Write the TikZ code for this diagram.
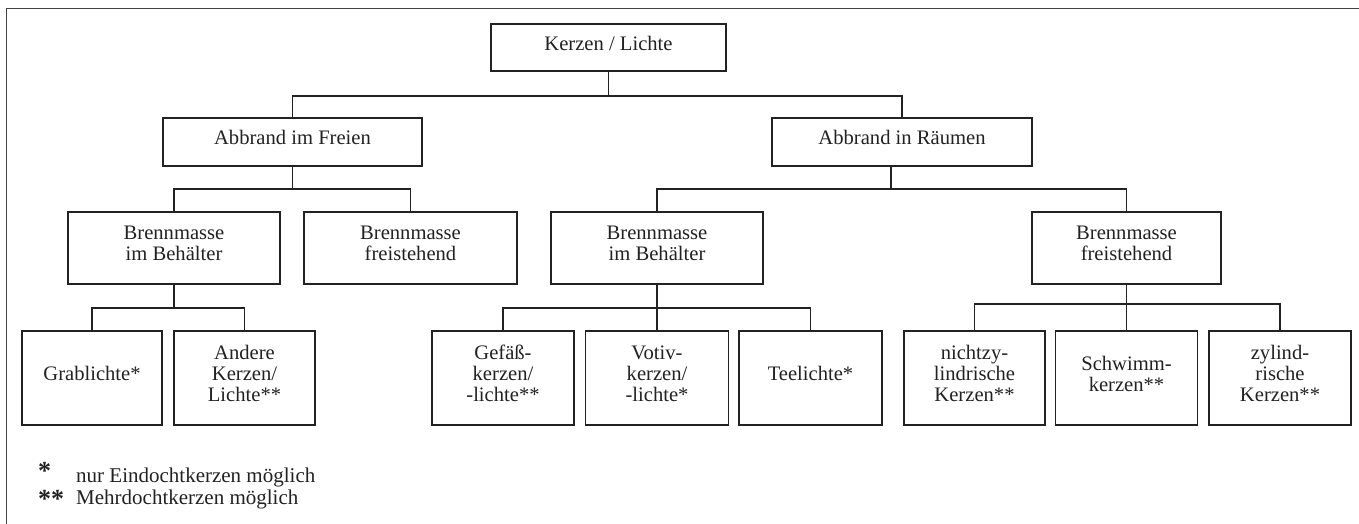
\documentclass[tikz,border=0pt]{standalone}
\usepackage{fontspec}
\setmainfont{Liberation Serif}
\definecolor{ink}{HTML}{222222}
\begin{document}
\begin{tikzpicture}[x=1pt,y=-1pt,
  conn/.style={draw=ink, line width=1.8pt},
  box/.style 2 args={draw=ink, line width=1.8pt, minimum width=#1, minimum height=#2,
    inner sep=0pt, align=center, text depth=9pt, text=ink,
    font=\fontsize{20.6}{21}\selectfont},
  legendtxt/.style={inner sep=0pt, text=ink, font=\fontsize{21}{21}\selectfont},
  starsym/.style={inner sep=0pt, text=ink, font=\fontsize{26}{26}\selectfont\bfseries}
]
\useasboundingbox (0,0) rectangle (1359,524);
\fill[white] (0,0) rectangle (1359,524);
% frame
\draw[draw=ink!85, line width=1.8pt] (6.5,530) -- (6.5,8.5) -- (1365,8.5);

% level 0
\node[box={235}{47}] (top) at (608.5,47.5) {Kerzen / Lichte};
% level 1
\node[box={259}{48}] (freien) at (292.5,142) {Abbrand im Freien};
\node[box={260}{48}] (raeumen) at (902,142) {Abbrand in Räumen};
% level 2
\node[box={212}{72}] (bL) at (174,248) {Brennmasse\\im Behälter};
\node[box={213}{72}] (fL) at (410.5,248) {Brennmasse\\freistehend};
\node[box={212}{72}] (bM) at (657,248) {Brennmasse\\im Behälter};
\node[box={189}{72}] (fR) at (1126.5,248) {Brennmasse\\freistehend};
% level 3
\node[box={140}{94}] (grab) at (92,378) {Grablichte*};
\node[box={141}{94}] (andere) at (244.5,378) {Andere\\Kerzen/\\Lichte**};
\node[box={142}{94}] (gef) at (503,378) {Gefäß-\\kerzen/\\-lichte**};
\node[box={143}{94}] (votiv) at (657,378) {Votiv-\\kerzen/\\-lichte*};
\node[box={143}{94}] (tee) at (810.5,378) {Teelichte*};
\node[box={141}{94}] (nicht) at (974.5,378) {nichtzy-\\lindrische\\Kerzen**};
\node[box={142}{94}] (schwimm) at (1126.5,378) {Schwimm-\\kerzen**};
\node[box={142}{94}] (zylind) at (1280,378) {zylind-\\rische\\Kerzen**};

% junctions
\coordinate (j0) at (608.5,96);
\coordinate (j1) at (292.5,189);
\coordinate (j2) at (891,189);
\coordinate (j3) at (174,308);
\coordinate (j4) at (657,308);
\coordinate (j5) at (1126.5,304);

% connectors
\draw[conn] (top.south) -- (j0);
\draw[conn] (freien.north) |- (j0) -| (raeumen.north);
\draw[conn] (freien.south) -- (j1);
\draw[conn] (bL.north) |- (j1) -| (fL.north);
\draw[conn] (raeumen.south -| j2) -- (j2);
\draw[conn] (bM.north) |- (j2) -| (fR.north);
\draw[conn] (bL.south) -- (j3);
\draw[conn] (grab.north) |- (j3) -| (andere.north);
\draw[conn] (bM.south) -- (votiv.north);
\draw[conn] (gef.north) |- (j4) -| (tee.north);
\draw[conn] (fR.south) -- (schwimm.north);
\draw[conn] (nicht.north) |- (j5) -| (zylind.north);

% legend
\node[starsym, anchor=base west] (s1) at (38,479) {*};
\node[legendtxt, anchor=base west] (l1) at (76,482) {nur Eindochtkerzen möglich};
\node[starsym, anchor=base west] (s2) at (38,507) {**};
\node[legendtxt, anchor=base west] (l2) at (76,504) {Mehrdochtkerzen möglich};
\end{tikzpicture}
\end{document}
